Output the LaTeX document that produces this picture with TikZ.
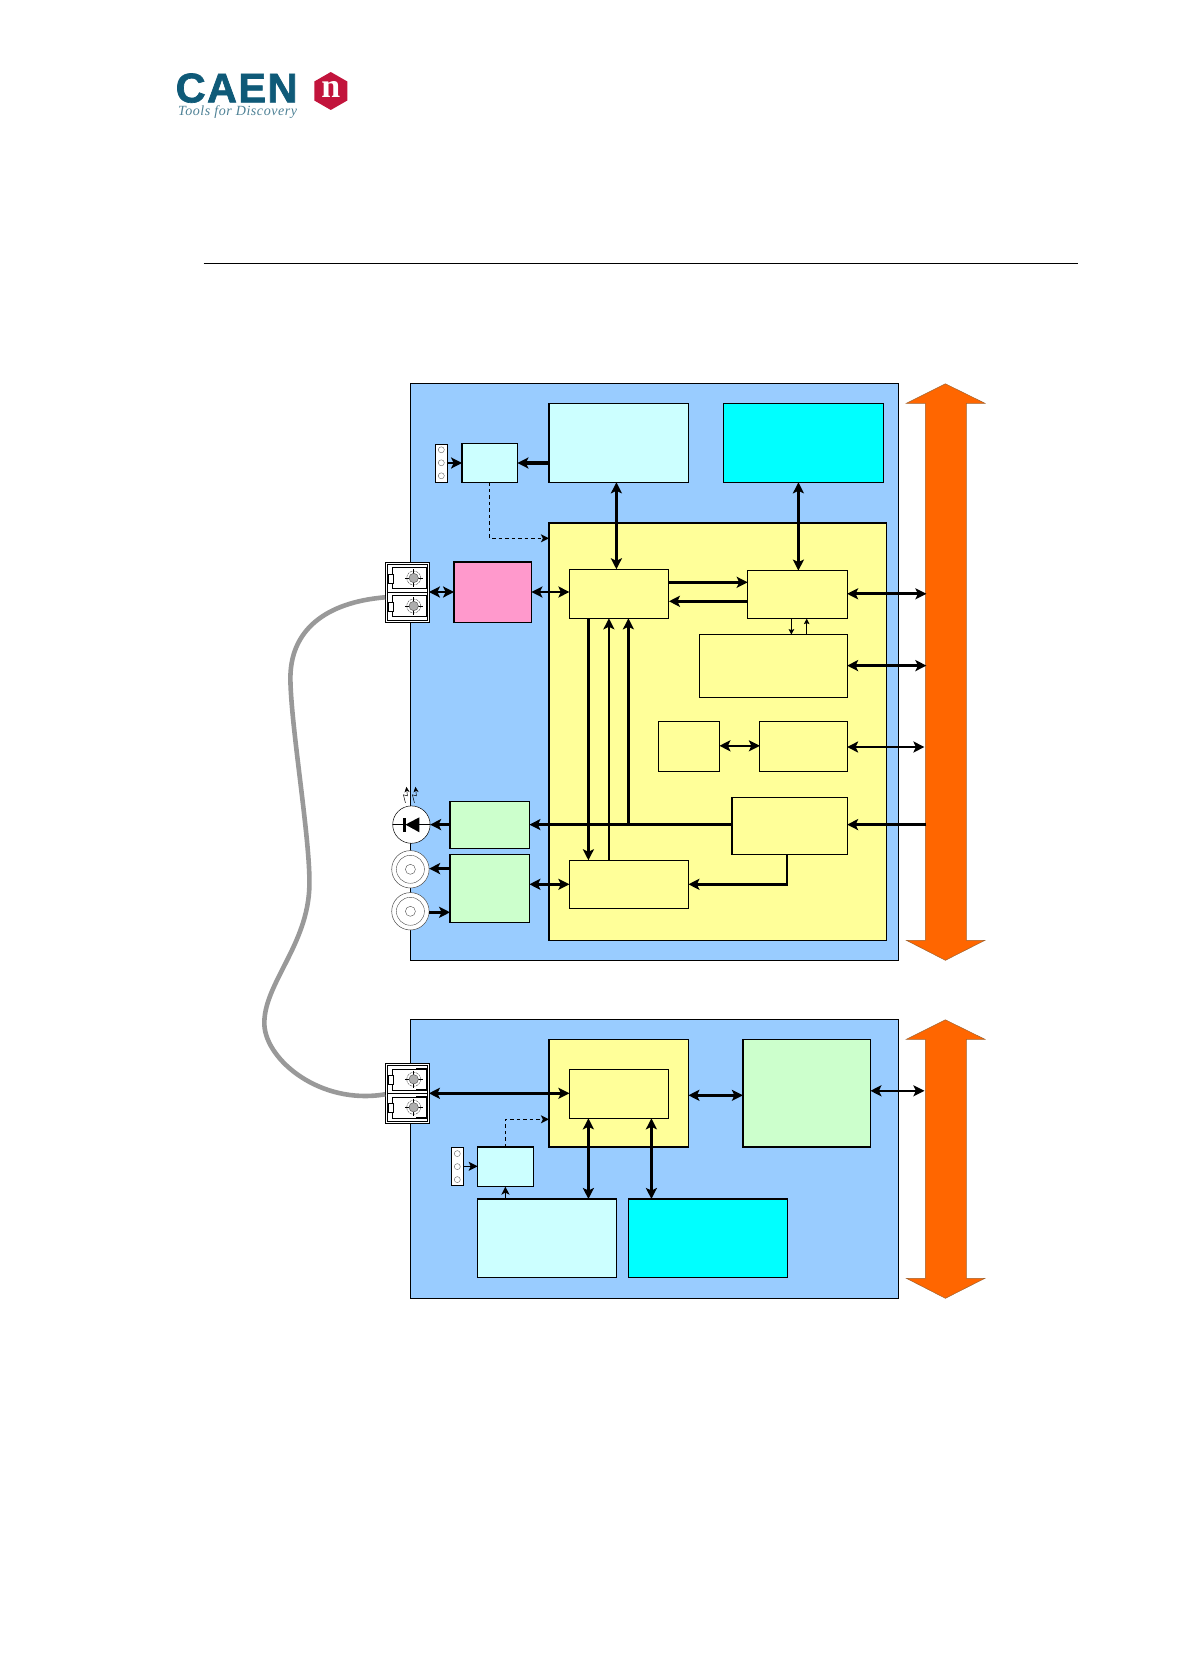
\documentclass[tikz,border=0pt]{standalone}
\usepackage{fontspec}
\setmainfont{Liberation Sans}
\newfontfamily\logofont[FakeBold=1.6,LetterSpace=3.4]{Liberation Sans}
\newfontfamily\serifit[ItalicFont=Liberation Serif Italic,LetterSpace=4]{Liberation Serif}
\newfontfamily\serifbd{Liberation Serif}
\usetikzlibrary{arrows.meta,calc}
\definecolor{panelblue}{HTML}{99CCFF}
\definecolor{paleyellow}{HTML}{FFFF99}
\definecolor{palecyan}{HTML}{CCFFFF}
\definecolor{purecyan}{HTML}{00FFFF}
\definecolor{palegreen}{HTML}{CCFFCC}
\definecolor{pinkbox}{HTML}{FF99CC}
\definecolor{busorange}{HTML}{FF6600}
\definecolor{busedge}{HTML}{A0622D}
\definecolor{caenblue}{HTML}{0F5A78}
\definecolor{caentext}{HTML}{4F8296}
\definecolor{caenred}{HTML}{C2143C}
\definecolor{cablegrey}{HTML}{999999}
\tikzset{
  blk/.style={draw=black,line width=1.1pt,inner sep=0pt,outer sep=0pt,anchor=north west},
  blkh/.style={blk,line width=1.5pt},
  conn/.style={line width=2.6pt,-{Stealth[length=11pt,width=11pt,inset=2.5pt]}},
  bothconn/.style={line width=2.6pt,{Stealth[length=11pt,width=11pt,inset=2.5pt]}-{Stealth[length=11pt,width=11pt,inset=2.5pt]}},
  heavyconn/.style={bothconn,line width=3.2pt},
  thinconn/.style={line width=1.1pt,-{Stealth[length=5.5pt,width=5.5pt,inset=1pt]}},
  dashconn/.style={line width=1.4pt,dash pattern=on 3.5pt off 3pt,-{Stealth[length=8pt,width=8pt,inset=2pt]}},
  strip/.style={draw=black,line width=.5pt,fill=white,inner sep=0pt,outer sep=0pt,anchor=north west},
  thinring/.style={draw=black!70,line width=.4pt},
  optic/.pic={
    \foreach \dy in {0,28}{
      \begin{scope}[yshift=-\dy pt]
      \draw[line width=.7pt] (22,5.3) rectangle (56,26.3);
      \draw[line width=1.6pt] (46,5.3) -- (56,5.3) -- (56,26.3) -- (46,26.3);
      \draw[line width=1pt,fill=white] (18,12) rectangle (23,20.7);
      \draw[thinring,dash pattern=on 2.4pt off .8pt] (43.3,15.7) circle (7);
      \draw[line width=.5pt] (34.5,15.7) -- (52.1,15.7) (43.3,6.9) -- (43.3,24.5);
      \fill[black!32] (43.3,15.7) circle (4.7);
      \draw[thinring] (43.3,15.7) circle (4.7);
      \end{scope}}
  },
  pinholes/.pic={
    \foreach \yy in {6,19,32}{\draw[draw=black!60,line width=.4pt] (5.6,\yy) circle (3);}
  },
  coax/.pic={
    \draw[thinring] (0,0) circle (14);
    \draw[thinring] (0,0) circle (5);
  },
  photon/.pic={
    \draw[line width=.5pt,-{Stealth[length=5.5pt,width=5pt]}] (0,16) -- (-2,8) -- (2,9) -- (1,0);
  }
}
\newcommand{\bx}[6][blk]{%
  \pgfmathsetmacro{\bxw}{#5-#3}\pgfmathsetmacro{\bxh}{#6-#4}%
  \node[#1,minimum width=\bxw pt,minimum height=\bxh pt] (#2) at (#3,#4) {};}
\begin{document}
\begin{tikzpicture}[x=1pt,y=-1pt]
\useasboundingbox (0,0) rectangle (1188,1680);
\fill[white] (0,0) rectangle (1188,1680);

% logo
\node[inner sep=0pt,anchor=base west,text=caenblue,font=\logofont\bfseries\fontsize{41.5}{42}\selectfont] (logo) at (175.5,102.4) {CAEN};
\node[inner sep=0pt,anchor=base west,text=caentext,font=\serifit\itshape\fontsize{14}{14}\selectfont] (tag) at (178,116) {Tools for Discovery};
\fill[caenred] (330.8,72) -- (347.3,81.5) -- (347.3,100.5) -- (330.8,110) -- (314.3,100.5) -- (314.3,81.5) -- cycle;
\node[inner sep=0pt,text=white,font=\serifbd\bfseries\fontsize{34}{34}\selectfont] (hexn) at (330.8,89) {n};

% rule
\coordinate (ruleL) at (203.5,263.5);
\coordinate (ruleR) at (1078,263.5);
\draw[line width=1.6pt] (ruleL) -- (ruleR);

\begin{scope}[shift={(0.4,0.3)}]
% buses
\fill[busorange] (945,383.5) -- (984.5,403) -- (966,403) -- (966,940) -- (984.5,940) -- (945,960) -- (906,940) -- (925,940) -- (925,403) -- (906,403) -- cycle;
\draw[busedge,line width=.5pt] (945,383.5) -- (984.5,403) -- (966,403) -- (966,940) -- (984.5,940) -- (945,960) -- (906,940) -- (925,940) -- (925,403) -- (906,403) -- cycle;
\fill[busorange] (945,1019.5) -- (984.5,1039) -- (966,1039) -- (966,1278) -- (984.5,1278) -- (945,1298) -- (906,1278) -- (925,1278) -- (925,1039) -- (906,1039) -- cycle;
\draw[busedge,line width=.5pt] (945,1019.5) -- (984.5,1039) -- (966,1039) -- (966,1278) -- (984.5,1278) -- (945,1298) -- (906,1278) -- (925,1278) -- (925,1039) -- (906,1039) -- cycle;
\coordinate (busL) at (926,0);
\coordinate (busS) at (924,0);

% panels
\bx[blk,fill=panelblue,line width=.9pt]{panelT}{410.5}{383.5}{898.5}{960}
\bx[blk,fill=panelblue,line width=.9pt]{panelB}{410.5}{1019.5}{898.5}{1298}

% top panel blocks
\bx[blkh,fill=palecyan]{ramT}{548.5}{403}{688}{482}
\bx[blkh,fill=purecyan]{flashT}{723}{403}{883}{482}
\bx[blkh,fill=paleyellow]{fpgaT}{548.5}{522.5}{886}{940}
\bx[blkh,fill=palecyan]{cfgT}{461.7}{443}{517}{482}
\bx[strip]{stripT}{435.3}{443.5}{446.5}{481.5}
\pic at (435.3,443.5) {pinholes};
\bx[blkh,fill=pinkbox]{sfpT}{453.7}{561.7}{531}{622}
\bx[blk,fill=paleyellow]{unitA}{569}{569}{668.5}{618}
\bx[blk,fill=paleyellow]{unitB}{747.3}{570.3}{846.7}{618.3}
\bx[blk,fill=paleyellow]{unitC}{699.5}{634.3}{846.7}{697.3}
\bx[blk,fill=paleyellow]{unitD}{658}{721}{719}{771}
\bx[blk,fill=paleyellow]{unitE}{759.5}{721}{846.7}{771}
\bx[blk,fill=paleyellow]{unitF}{731.6}{797}{846.7}{854}
\bx[blk,fill=paleyellow]{unitG}{569}{860}{688}{908}
\bx[blkh,fill=palegreen]{ledDrv}{449.7}{801}{529}{848.3}
\bx[blkh,fill=palegreen]{ttlDrv}{449.7}{854.3}{529}{922}

% front panel parts, top
\bx[blk,fill=white,line width=.7pt]{optT}{384.7}{562}{428.5}{622}
\bx[blk,fill=white,line width=.7pt]{optTi}{386.7}{564}{426.5}{620}
\pic at (370,562) {optic};
\draw[line width=.8pt] (386.7,592) -- (426.5,592);
\node[circle,draw=black,line width=.5pt,fill=white,minimum size=37.4pt,inner sep=0pt,outer sep=0pt] (led) at (411,824.3) {};
\draw[line width=.5pt] (392.3,824.3) -- (429.7,824.3);
\fill (405,824.3) -- (419,817) -- (419,832) -- cycle;
\fill (402.5,817.5) rectangle (405.5,831.5);
\pic at (405,786.5) {photon};
\pic at (414,786.5) {photon};
\node[circle,draw=black!70,line width=.5pt,fill=white,minimum size=37.4pt,inner sep=0pt,outer sep=0pt] (coaxA) at (410,869) {};
\pic at (410,869) {coax};
\node[circle,draw=black!70,line width=.5pt,fill=white,minimum size=37.4pt,inner sep=0pt,outer sep=0pt] (coaxB) at (410,911) {};
\pic at (410,911) {coax};

% bottom panel blocks
\bx[blkh,fill=paleyellow]{fpgaB}{548.5}{1039}{688}{1146.5}
\bx[blk,fill=paleyellow]{unitH}{569}{1069}{668.5}{1118}
\bx[blkh,fill=palegreen]{pciB}{742.5}{1039}{870}{1146.5}
\bx[blkh,fill=palecyan]{cfgB}{477.3}{1146.7}{533}{1186.3}
\bx[strip]{stripB}{451.3}{1147.3}{462.7}{1185.3}
\pic at (451.3,1147.3) {pinholes};
\bx[blkh,fill=palecyan]{ramB}{477}{1198.7}{616}{1277}
\bx[blkh,fill=purecyan]{flashB}{628}{1198.7}{787}{1277}
\bx[blk,fill=white,line width=.7pt]{optB}{384.7}{1063.3}{428.5}{1123.3}
\bx[blk,fill=white,line width=.7pt]{optBi}{386.7}{1065.3}{426.5}{1121.3}
\pic at (370,1063.3) {optic};
\draw[line width=.8pt] (386.7,1093.3) -- (426.5,1093.3);

% cable
\draw[cablegrey,line width=4.6pt] (optT.west |- 0,597)
  .. controls (325,602) and (289,630) .. (290,680)
  .. controls (291,730) and (310,840) .. (309,885)
  .. controls (308,945) and (262,985) .. (264,1025)
  .. controls (266,1060) and (320,1105) .. (optB.west |- 0,1094);

% lanes
\foreach \nm/\xx in {lRamT/616,lFlashT/798,lThinD/791,lThinU/806.3,lDown/588,lUp/608.5,lTap/628,lFG/786.5,lDash/489.3,lDashB/505,lVa/588,lVb/651}{\coordinate (\nm) at (\xx,0);}
\foreach \nm/\yy in {yCfg/462.7,yDash/538,ySfp/591.7,yAB/582,yBA/601,yBbus/593.5,yCbus/665.3,yDE/745.5,yEbus/746.7,yF/824.3,yFG/884,yCoaxA/868.3,yCoaxB/912,yOptB/1093,yDashB/1119,yCfgB/1166,yFP/1095,yPbus/1090.5}{\coordinate (\nm) at (0,\yy);}

% connectors, top
\draw[conn,line width=2pt] (stripT.east |- yCfg) -- (cfgT.west |- yCfg);
\draw[conn,line width=3.2pt] (ramT.west |- yCfg) -- (cfgT.east |- yCfg);
\draw[dashconn] (cfgT.south -| lDash) -- (lDash |- yDash) -- (fpgaT.west |- yDash);
\draw[bothconn] (ramT.south -| lRamT) -- (unitA.north -| lRamT);
\draw[bothconn] (flashT.south -| lFlashT) -- (unitB.north -| lFlashT);
\draw[bothconn] (optT.east |- ySfp) -- (sfpT.west |- ySfp);
\draw[bothconn] (sfpT.east |- ySfp) -- (unitA.west |- ySfp);
\draw[conn] (unitA.east |- yAB) -- (unitB.west |- yAB);
\draw[conn] (unitB.west |- yBA) -- (unitA.east |- yBA);
\draw[heavyconn] (unitB.east |- yBbus) -- (busL |- yBbus);
\draw[thinconn] (unitB.south -| lThinD) -- (unitC.north -| lThinD);
\draw[thinconn] (unitC.north -| lThinU) -- (unitB.south -| lThinU);
\draw[bothconn] (unitC.east |- yCbus) -- (busL |- yCbus);
\draw[bothconn] (unitD.east |- yDE) -- (unitE.west |- yDE);
\draw[bothconn] (unitE.east |- yEbus) -- (busS |- yEbus);
\draw[conn] (busL |- yF) -- (unitF.east |- yF);
\draw[conn] (unitF.west |- yF) -- (ledDrv.east |- yF);
\draw[conn] (unitA.south -| lDown) -- (unitG.north -| lDown);
\draw[conn] (unitG.north -| lUp) -- (unitA.south -| lUp);
\draw[conn] (lTap |- yF) -- (unitA.south -| lTap);
\draw[conn] (unitF.south -| lFG) -- (lFG |- yFG) -- (unitG.east |- yFG);
\draw[conn] (ledDrv.west |- yF) -- (led.east |- yF);
\draw[conn] (ttlDrv.west |- yCoaxA) -- (coaxA.east |- yCoaxA);
\draw[conn] (coaxB.east |- yCoaxB) -- (ttlDrv.west |- yCoaxB);
\draw[bothconn] (ttlDrv.east |- yFG) -- (unitG.west |- yFG);

% connectors, bottom
\draw[heavyconn] (optB.east |- yOptB) -- (unitH.west |- yOptB);
\draw[dashconn] (cfgB.north -| lDashB) -- (lDashB |- yDashB) -- (fpgaB.west |- yDashB);
\draw[conn,line width=1.6pt,-{Stealth[length=9pt,width=9pt,inset=2pt]}] (stripB.east |- yCfgB) -- (cfgB.west |- yCfgB);
\draw[conn,line width=1.6pt,-{Stealth[length=8pt,width=8pt,inset=2pt]}] (ramB.north -| lDashB) -- (cfgB.south -| lDashB);
\draw[bothconn] (unitH.south -| lVa) -- (ramB.north -| lVa);
\draw[bothconn] (unitH.south -| lVb) -- (flashB.north -| lVb);
\draw[bothconn] (fpgaB.east |- yFP) -- (pciB.west |- yFP);
\draw[bothconn] (pciB.east |- yPbus) -- (busS |- yPbus);
\end{scope}
\end{tikzpicture}
\end{document}
